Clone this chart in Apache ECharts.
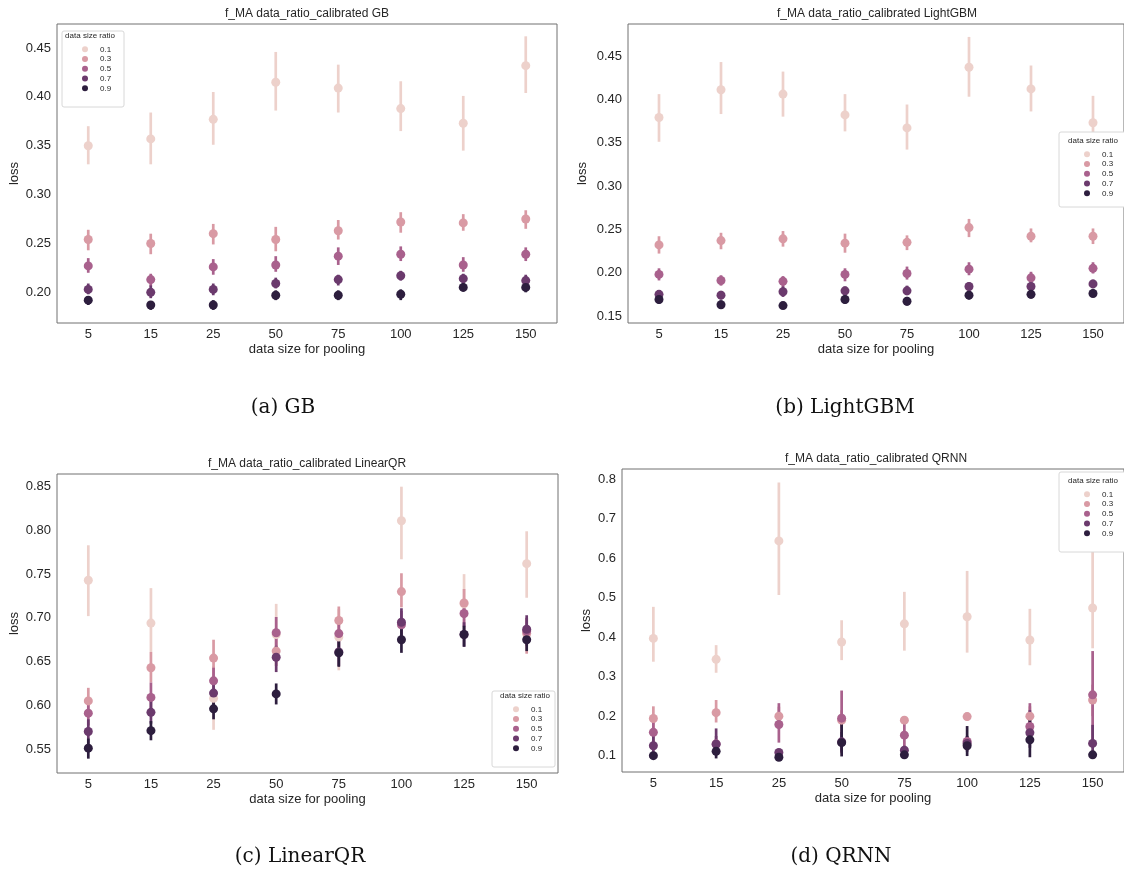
<!DOCTYPE html>
<html>
<head>
    <meta charset="utf-8">
    <script src="https://cdn.jsdelivr.net/npm/echarts@6/dist/echarts.min.js"></script>
    <style>
        html, body { margin: 0; padding: 0; background: #fff; }
        #main { width: 1124px; height: 877px; }
    </style>
</head>
<body>
<div id="main"></div>
<script type="text/javascript">
// categories
var pools = ['5', '15', '25', '50', '75', '100', '125', '150'];
var ratios = ['0.1', '0.3', '0.5', '0.7', '0.9'];

// (a) GB : point estimate and confidence interval per ratio row
var gbMean = [
    [0.350, 0.357, 0.377, 0.415, 0.409, 0.388, 0.373, 0.432],
    [0.254, 0.250, 0.260, 0.254, 0.263, 0.272, 0.271, 0.275],
    [0.227, 0.213, 0.226, 0.228, 0.237, 0.239, 0.228, 0.239],
    [0.203, 0.200, 0.203, 0.209, 0.213, 0.217, 0.214, 0.212],
    [0.192, 0.187, 0.187, 0.197, 0.197, 0.198, 0.205, 0.205]
];
var gbLow = [
    [0.331, 0.331, 0.351, 0.386, 0.384, 0.365, 0.345, 0.404],
    [0.243, 0.239, 0.249, 0.242, 0.254, 0.261, 0.263, 0.265],
    [0.220, 0.206, 0.218, 0.221, 0.228, 0.232, 0.221, 0.232],
    [0.198, 0.194, 0.197, 0.204, 0.207, 0.212, 0.209, 0.207],
    [0.187, 0.182, 0.182, 0.192, 0.192, 0.192, 0.201, 0.200]
];
var gbHigh = [
    [0.370, 0.384, 0.405, 0.446, 0.433, 0.416, 0.401, 0.462],
    [0.264, 0.260, 0.270, 0.267, 0.274, 0.282, 0.280, 0.284],
    [0.235, 0.219, 0.234, 0.237, 0.246, 0.247, 0.236, 0.246],
    [0.209, 0.207, 0.209, 0.215, 0.218, 0.222, 0.219, 0.218],
    [0.196, 0.191, 0.192, 0.202, 0.202, 0.203, 0.210, 0.211]
];

// (b) LightGBM
var lgbMean = [
    [0.379, 0.411, 0.406, 0.382, 0.367, 0.437, 0.412, 0.373],
    [0.232, 0.237, 0.239, 0.234, 0.235, 0.252, 0.242, 0.242],
    [0.198, 0.191, 0.190, 0.198, 0.199, 0.204, 0.194, 0.205],
    [0.175, 0.174, 0.178, 0.179, 0.179, 0.184, 0.184, 0.187],
    [0.169, 0.163, 0.162, 0.169, 0.167, 0.174, 0.175, 0.176]
];
var lgbLow = [
    [0.351, 0.383, 0.380, 0.363, 0.342, 0.403, 0.386, 0.341],
    [0.222, 0.227, 0.230, 0.223, 0.226, 0.241, 0.235, 0.233],
    [0.191, 0.185, 0.183, 0.190, 0.192, 0.197, 0.188, 0.199],
    [0.170, 0.169, 0.172, 0.173, 0.174, 0.178, 0.178, 0.182],
    [0.164, 0.159, 0.158, 0.164, 0.162, 0.169, 0.170, 0.172]
];
var lgbHigh = [
    [0.406, 0.443, 0.432, 0.406, 0.394, 0.472, 0.439, 0.404],
    [0.242, 0.246, 0.248, 0.245, 0.243, 0.262, 0.251, 0.251],
    [0.205, 0.197, 0.196, 0.205, 0.207, 0.212, 0.201, 0.212],
    [0.180, 0.179, 0.184, 0.184, 0.185, 0.189, 0.189, 0.192],
    [0.173, 0.168, 0.165, 0.174, 0.172, 0.179, 0.179, 0.181]
];

// (c) LinearQR
var lqrMean = [
    [0.743, 0.694, 0.608, 0.681, 0.678, 0.811, 0.716, 0.762],
    [0.605, 0.643, 0.654, 0.662, 0.697, 0.730, 0.717, 0.682],
    [0.591, 0.609, 0.628, 0.683, 0.682, 0.692, 0.705, 0.685],
    [0.570, 0.592, 0.614, 0.655, 0.661, 0.695, 0.681, 0.687],
    [0.551, 0.571, 0.596, 0.613, 0.660, 0.675, 0.681, 0.675]
];
var lqrLow = [
    [0.702, 0.661, 0.572, 0.645, 0.640, 0.767, 0.680, 0.723],
    [0.590, 0.626, 0.632, 0.645, 0.681, 0.712, 0.700, 0.659],
    [0.577, 0.593, 0.613, 0.666, 0.666, 0.676, 0.690, 0.668],
    [0.556, 0.579, 0.600, 0.638, 0.645, 0.678, 0.667, 0.670],
    [0.539, 0.560, 0.584, 0.601, 0.644, 0.660, 0.667, 0.662]
];
var lqrHigh = [
    [0.783, 0.734, 0.645, 0.716, 0.710, 0.850, 0.750, 0.799],
    [0.620, 0.661, 0.675, 0.680, 0.713, 0.751, 0.733, 0.700],
    [0.605, 0.626, 0.643, 0.701, 0.697, 0.708, 0.720, 0.700],
    [0.584, 0.605, 0.628, 0.668, 0.677, 0.711, 0.695, 0.703],
    [0.562, 0.582, 0.608, 0.625, 0.674, 0.689, 0.691, 0.687]
];

// (d) QRNN
var qrnnMean = [
    [0.397, 0.344, 0.644, 0.388, 0.434, 0.452, 0.393, 0.474],
    [0.194, 0.209, 0.200, 0.190, 0.190, 0.199, 0.200, 0.241],
    [0.159, 0.130, 0.179, 0.195, 0.152, 0.136, 0.174, 0.254],
    [0.125, 0.129, 0.108, 0.135, 0.114, 0.131, 0.158, 0.131],
    [0.100, 0.111, 0.096, 0.133, 0.102, 0.125, 0.140, 0.102]
];
var qrnnLow = [
    [0.338, 0.310, 0.507, 0.342, 0.366, 0.361, 0.329, 0.372],
    [0.160, 0.184, 0.173, 0.170, 0.182, 0.189, 0.175, 0.200],
    [0.130, 0.110, 0.133, 0.106, 0.123, 0.120, 0.140, 0.140],
    [0.105, 0.102, 0.100, 0.110, 0.104, 0.110, 0.120, 0.100],
    [0.095, 0.093, 0.092, 0.098, 0.096, 0.099, 0.096, 0.096]
];
var qrnnHigh = [
    [0.477, 0.380, 0.792, 0.443, 0.515, 0.568, 0.472, 0.620],
    [0.225, 0.241, 0.224, 0.215, 0.198, 0.209, 0.225, 0.280],
    [0.190, 0.150, 0.233, 0.265, 0.182, 0.150, 0.233, 0.365],
    [0.150, 0.169, 0.114, 0.160, 0.125, 0.150, 0.215, 0.178],
    [0.105, 0.136, 0.100, 0.190, 0.108, 0.175, 0.207, 0.106]
];

// y tick labels
var gbTicks = [0.20, 0.25, 0.30, 0.35, 0.40, 0.45];
var lgbTicks = [0.15, 0.20, 0.25, 0.30, 0.35, 0.40, 0.45];
var lqrTicks = [0.55, 0.60, 0.65, 0.70, 0.75, 0.80, 0.85];
var qrnnTicks = [0.1, 0.2, 0.3, 0.4, 0.5, 0.6, 0.7, 0.8];

var palette = ['#edd1cb', '#d99aa4', '#a9618d', '#6b3a6d', '#2d1e3e'];
var sans = 'Liberation Sans, Arial, sans-serif';
var ink = '#262626';

var panels = [
    {title: 'f_MA data_ratio_calibrated GB', caption: '(a) GB', mean: gbMean, low: gbLow, high: gbHigh,
     ticks: gbTicks, digits: 2, min: 0.1686, max: 0.4746,
     grid: {left: 57, top: 24, width: 500, height: 299}, nameGap: 36,
     legend: {left: 82, top: 45.3}, box: [62, 31, 62, 76], boxTitle: [90, 36],
     titleXY: [307, 14], capXY: [283, 408]},
    {title: 'f_MA data_ratio_calibrated LightGBM', caption: '(b) LightGBM', mean: lgbMean, low: lgbLow, high: lgbHigh,
     ticks: lgbTicks, digits: 2, min: 0.1419, max: 0.4869,
     grid: {left: 628, top: 24, width: 498, height: 299}, nameGap: 39,
     legend: {left: 1084, top: 150.3}, box: [1059, 132, 70, 75], boxTitle: [1093, 141],
     titleXY: [877, 14], capXY: [845, 408]},
    {title: 'f_MA data_ratio_calibrated LinearQR', caption: '(c) LinearQR', mean: lqrMean, low: lqrLow, high: lqrHigh,
     ticks: lqrTicks, digits: 2, min: 0.5226, max: 0.8645,
     grid: {left: 57, top: 474, width: 501, height: 299}, nameGap: 36,
     legend: {left: 513, top: 705.3}, box: [492, 691, 63, 76], boxTitle: [525, 696],
     titleXY: [307, 464], capXY: [300, 857]},
    {title: 'f_MA data_ratio_calibrated QRNN', caption: '(d) QRNN', mean: qrnnMean, low: qrnnLow, high: qrnnHigh,
     ticks: qrnnTicks, digits: 1, min: 0.0586, max: 0.8262,
     grid: {left: 622, top: 469, width: 508, height: 303}, nameGap: 29,
     legend: {left: 1084, top: 490.3}, box: [1059, 472, 70, 80], boxTitle: [1093, 481],
     titleXY: [876, 459], capXY: [841, 857]}
];

// vertical confidence interval line
function ciItem(params, api) {
    var top = api.coord([api.value(0), api.value(2)]);
    var bot = api.coord([api.value(0), api.value(1)]);
    return {
        type: 'line',
        shape: {x1: top[0], y1: top[1], x2: bot[0], y2: bot[1]},
        style: {stroke: api.visual('color'), lineWidth: 2.7}
    };
}

var grids = [], xAxes = [], yAxes = [], series = [], legends = [], titles = [], graphics = [];

panels.forEach(function (p, k) {
    grids.push({left: p.grid.left, top: p.grid.top, width: p.grid.width, height: p.grid.height,
        show: true, borderColor: '#707070', borderWidth: 1, backgroundColor: '#fff'});
    xAxes.push({
        type: 'category', gridIndex: k, data: pools,
        axisLine: {show: false}, axisTick: {show: false}, splitLine: {show: false},
        axisLabel: {color: ink, fontSize: 13, fontFamily: sans, margin: 5},
        name: 'data size for pooling', nameLocation: 'middle', nameGap: 20,
        nameTextStyle: {color: ink, fontSize: 13, fontFamily: sans}
    });
    yAxes.push({
        type: 'value', gridIndex: k, min: p.min, max: p.max,
        axisLine: {show: false}, axisTick: {show: false}, splitLine: {show: false},
        axisLabel: {color: ink, fontSize: 13, fontFamily: sans, margin: 6,
            customValues: p.ticks,
            formatter: (function (d) { return function (v) { return v.toFixed(d); }; })(p.digits)},
        name: 'loss', nameLocation: 'middle', nameGap: p.nameGap,
        nameTextStyle: {color: ink, fontSize: 13, fontFamily: sans}
    });
    ratios.forEach(function (r, i) {
        var ci = [], pts = [];
        for (var j = 0; j < pools.length; j++) {
            ci.push([j, p.low[i][j], p.high[i][j]]);
            pts.push([j, p.mean[i][j]]);
        }
        series.push({
            name: r + ' ci', type: 'custom', xAxisIndex: k, yAxisIndex: k,
            renderItem: ciItem, data: ci, encode: {x: 0, y: [1, 2]},
            itemStyle: {color: palette[i]}, clip: true, silent: true
        });
        series.push({
            name: r, type: 'scatter', xAxisIndex: k, yAxisIndex: k,
            data: pts, symbol: 'circle', symbolSize: 9,
            itemStyle: {color: palette[i], opacity: 1}
        });
    });
    legends.push({
        data: ratios, orient: 'vertical', left: p.legend.left, top: p.legend.top,
        padding: 0, itemGap: 1.75, itemWidth: 6, itemHeight: 6, icon: 'circle',
        selectedMode: false, z: 20,
        textStyle: {fontSize: 8, lineHeight: 8, color: ink, fontFamily: sans, padding: [0, 0, 0, 7]}
    });
    graphics.push({
        type: 'rect', z: 15,
        shape: {x: p.box[0], y: p.box[1], width: p.box[2], height: p.box[3], r: 2},
        style: {fill: '#fff', stroke: '#d8d8d8', lineWidth: 1}
    });
    titles.push({
        text: 'data size ratio', left: p.boxTitle[0], top: p.boxTitle[1] - 4.5, textAlign: 'center', padding: 0, z: 20,
        textStyle: {fontSize: 8, lineHeight: 9, fontWeight: 'normal', color: ink, fontFamily: sans}
    });
    titles.push({
        text: p.title, left: p.titleXY[0], top: p.titleXY[1] - 7, textAlign: 'center', padding: 0,
        textStyle: {fontSize: 12, lineHeight: 14, fontWeight: 'normal', color: ink, fontFamily: sans}
    });
    titles.push({
        text: p.caption, left: p.capXY[0], top: p.capXY[1] - 12, textAlign: 'center', padding: 0,
        textStyle: {fontSize: 20, lineHeight: 24, fontWeight: 'normal', color: '#111', fontFamily: 'DejaVu Serif, serif'}
    });
});

var myChart = echarts.init(document.getElementById('main'), null, {renderer: 'canvas'});
myChart.setOption({
    animation: false,
    backgroundColor: '#fff',
    title: titles,
    grid: grids,
    xAxis: xAxes,
    yAxis: yAxes,
    legend: legends,
    graphic: {elements: graphics},
    series: series
});
</script>
</body>
</html>
